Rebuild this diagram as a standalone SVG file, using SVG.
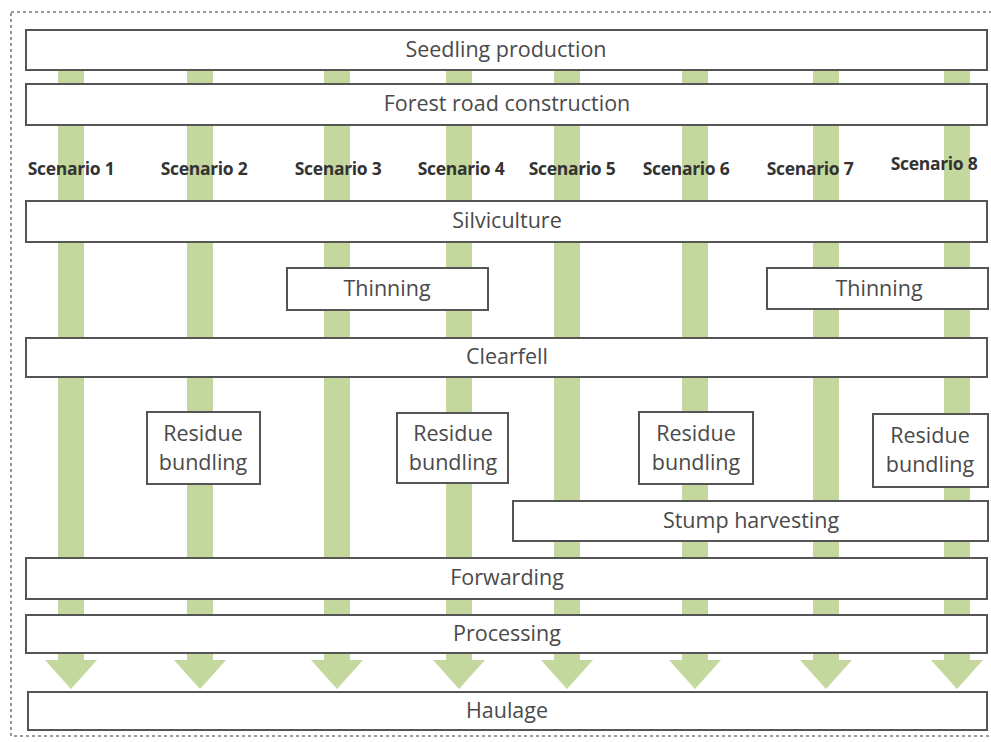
<svg xmlns="http://www.w3.org/2000/svg" width="991" height="742" viewBox="0 0 991 742">
<style>
.bg{fill:#ffffff}
.frame{fill:none;stroke:#7a7a7a;stroke-width:1.6;stroke-dasharray:3 3}
.bar{fill:#c4d79c}
.box{fill:#ffffff;stroke:#555555;stroke-width:2}
.t{font-family:"Open Sans","Liberation Sans",sans-serif;font-size:21.5px;fill:#4a4a4a;text-anchor:middle}
.s{font-family:"Open Sans","Liberation Sans",sans-serif;font-size:17.5px;font-weight:bold;fill:#333333;text-anchor:middle;letter-spacing:-0.3px}
</style>
<defs>
<g id="arrow">
<rect class="bar" x="-13" y="40" width="26" height="622"/>
<polygon class="bar" points="-26,660 26,660 0,689"/>
</g>
</defs>
<rect class="bg" x="0" y="0" width="991" height="742"/>
<rect class="frame" x="11" y="12" width="1000" height="724"/>
<g id="connectors">
<use href="#arrow" x="71"/>
<use href="#arrow" x="200"/>
<use href="#arrow" x="337"/>
<use href="#arrow" x="459"/>
<use href="#arrow" x="567"/>
<use href="#arrow" x="695"/>
<use href="#arrow" x="826"/>
<use href="#arrow" x="957"/>
</g>
<g id="scenario-labels">
<text class="s" x="71" y="175">Scenario 1</text>
<text class="s" x="204" y="175">Scenario 2</text>
<text class="s" x="338" y="175">Scenario 3</text>
<text class="s" x="461" y="175">Scenario 4</text>
<text class="s" x="572" y="175">Scenario 5</text>
<text class="s" x="686" y="175">Scenario 6</text>
<text class="s" x="810" y="175">Scenario 7</text>
<text class="s" x="934" y="170">Scenario 8</text>
</g>
<g id="seedling">
<rect class="box" x="26" y="30" width="961" height="40"/>
<text class="t" x="506" y="57">Seedling production</text>
</g>
<g id="road">
<rect class="box" x="26" y="84" width="961" height="41"/>
<text class="t" x="507" y="111">Forest road construction</text>
</g>
<g id="silviculture">
<rect class="box" x="26" y="201" width="961" height="41"/>
<text class="t" x="507" y="228">Silviculture</text>
</g>
<g id="thinning1">
<rect class="box" x="287" y="268" width="201" height="42"/>
<text class="t" x="387" y="296">Thinning</text>
</g>
<g id="thinning2">
<rect class="box" x="767" y="268" width="221" height="41"/>
<text class="t" x="879" y="296">Thinning</text>
</g>
<g id="clearfell">
<rect class="box" x="26" y="338" width="961" height="39"/>
<text class="t" x="507" y="364">Clearfell</text>
</g>
<g id="residue1">
<rect class="box" x="147" y="412" width="113" height="72"/>
<text class="t" x="203" y="441">Residue</text>
<text class="t" x="203" y="470">bundling</text>
</g>
<g id="residue2">
<rect class="box" x="397" y="413" width="111" height="70"/>
<text class="t" x="453" y="441">Residue</text>
<text class="t" x="453" y="470">bundling</text>
</g>
<g id="residue3">
<rect class="box" x="639" y="412" width="114" height="72"/>
<text class="t" x="696" y="441">Residue</text>
<text class="t" x="696" y="470">bundling</text>
</g>
<g id="residue4">
<rect class="box" x="873" y="414" width="115" height="73"/>
<text class="t" x="930" y="443">Residue</text>
<text class="t" x="930" y="472">bundling</text>
</g>
<g id="stump">
<rect class="box" x="513" y="501" width="475" height="40"/>
<text class="t" x="751" y="528">Stump harvesting</text>
</g>
<g id="forwarding">
<rect class="box" x="26" y="558" width="961" height="41"/>
<text class="t" x="507" y="585">Forwarding</text>
</g>
<g id="processing">
<rect class="box" x="26" y="615" width="961" height="38"/>
<text class="t" x="507" y="641">Processing</text>
</g>
<g id="haulage">
<rect class="box" x="28" y="692" width="959" height="38"/>
<text class="t" x="507" y="718">Haulage</text>
</g>
</svg>
